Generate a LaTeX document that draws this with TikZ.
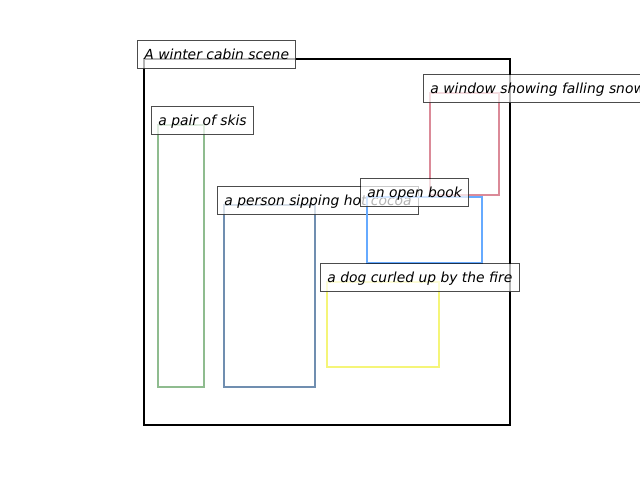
\documentclass[tikz,border=0pt]{standalone}
\usepackage{fontspec}
\setmainfont{DejaVu Sans}
\usepackage{tikz}

\definecolor{skigreen}{RGB}{143,188,143}
\definecolor{cocoablue}{RGB}{112,142,176}
\definecolor{bookblue}{RGB}{102,170,255}
\definecolor{windowpink}{RGB}{219,138,152}
\definecolor{dogyellow}{RGB}{245,245,120}

\begin{document}
\begin{tikzpicture}[x=0.75pt,y=-0.75pt]
	\tikzstyle{region}=[line width=2pt]
	\tikzstyle{caption}=[anchor=north west,fill=white,fill opacity=0.7,text opacity=1,draw=black,draw opacity=0.7,line width=0.75pt,inner sep=5.2pt,text height=9.4pt,text depth=1.2pt,font=\fontsize{10.4}{12}\selectfont\itshape]

  \useasboundingbox (0,0) rectangle (640,480);

  % the scene frame
  \coordinate (scene) at (144,59);
  \draw[region,black] (scene) rectangle (510,425);
  \node[caption] (sceneLabel) at ([shift={(-7,-19)}]scene) {A winter cabin scene};

  % skis
  \coordinate (skis) at (158,125);
  \draw[region,skigreen] (skis) rectangle (204,387);
  \node[caption] (skisLabel) at ([shift={(-7,-19)}]skis) {a pair of skis};

  % person with cocoa
  \coordinate (person) at (224,205);
  \draw[region,cocoablue] (person) rectangle (315,387);
  \node[caption] (personLabel) at ([shift={(-7,-19)}]person) {a person sipping hot cocoa};

  % window
  \coordinate (window) at (430,93);
  \draw[region,windowpink] (window) rectangle (499,195);
  \node[caption] (windowLabel) at ([shift={(-7,-19)}]window) {a window showing falling snow};

  % book
  \coordinate (book) at (367,197);
  \draw[region,bookblue] (book) rectangle (482,263);
  \node[caption] (bookLabel) at ([shift={(-7,-19)}]book) {an open book};

  % dog
  \coordinate (dog) at (327,282);
  \draw[region,dogyellow] (dog) rectangle (439,367);
  \node[caption] (dogLabel) at ([shift={(-7,-19)}]dog) {a dog curled up by the fire};

\end{tikzpicture}
\end{document}
